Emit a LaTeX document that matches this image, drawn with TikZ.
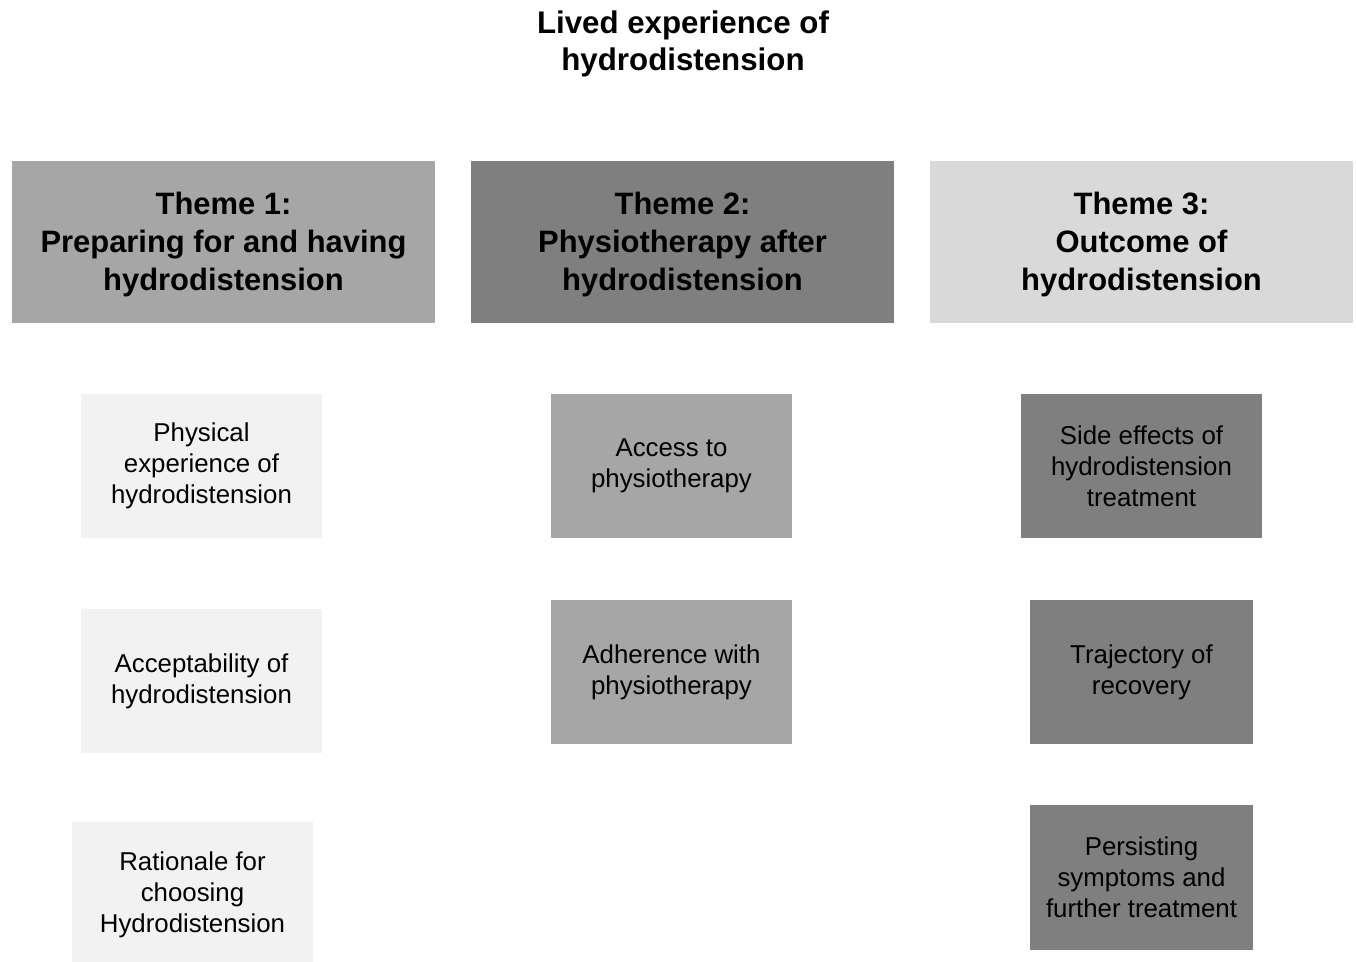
\documentclass[tikz,border=0pt]{standalone}
\usepackage{fontspec}
\setmainfont{Liberation Sans}
\usetikzlibrary{positioning}
\definecolor{themeA}{HTML}{A6A6A6}
\definecolor{themeB}{HTML}{7F7F7F}
\definecolor{themeC}{HTML}{D9D9D9}
\definecolor{subA}{HTML}{F2F2F2}

\begin{document}
\begin{tikzpicture}[
    x=0.02cm, y=-0.02cm,
    theme/.style={minimum width=8.46cm, minimum height=3.24cm, align=center, inner sep=0pt,
        font=\fontsize{17.6}{21.6}\selectfont\bfseries},
    sub/.style={minimum width=4.82cm, minimum height=2.9cm, align=center, inner sep=0pt,
        font=\fontsize{14.7}{17.6}\selectfont}
]
    \useasboundingbox (0,0) rectangle (1356,962);
    \clip (0,0) rectangle (1356,962);

    % Title
    \node[align=center, font=\fontsize{17.8}{21.2}\selectfont\bfseries] (title) at (683,44)
        {Lived experience of\\hydrodistension};

    % Theme headers
    \node[theme, fill=themeA] (t1) at (223.5,242) {\rule{0pt}{16pt}Theme 1:\\Preparing for and having\\hydrodistension};
    \node[theme, fill=themeB] (t2) at (682.5,242) {\rule{0pt}{16pt}Theme 2:\\Physiotherapy after\\hydrodistension};
    \node[theme, fill=themeC] (t3) at (1141.5,242) {\rule{0pt}{16pt}Theme 3:\\Outcome of\\hydrodistension};

    % Sub-themes, theme 1
    \node[sub, fill=subA] (s11) at (201.5,466) {Physical\\experience of\\hydrodistension};
    \node[sub, fill=subA] (s12) at (201.5,681) {Acceptability of\\hydrodistension};
    \node[sub, fill=subA] (s13) at (192.5,894.5) {Rationale for\\choosing\\Hydrodistension};

    % Sub-themes, theme 2
    \node[sub, fill=themeA] (s21) at (671.5,466) {Access to\\physiotherapy};
    \node[sub, fill=themeA] (s22) at (671.5,672) {Adherence with\\physiotherapy};

    % Sub-themes, theme 3
    \node[sub, fill=themeB] (s31) at (1141.5,466) {Side effects of\\hydrodistension\\treatment};
    \node[sub, fill=themeB, minimum width=4.46cm] (s32) at (1141.5,672) {Trajectory of\\recovery};
    \node[sub, fill=themeB, minimum width=4.46cm] (s33) at (1141.5,877.5) {Persisting\\symptoms and\\further treatment};
\end{tikzpicture}
\end{document}
